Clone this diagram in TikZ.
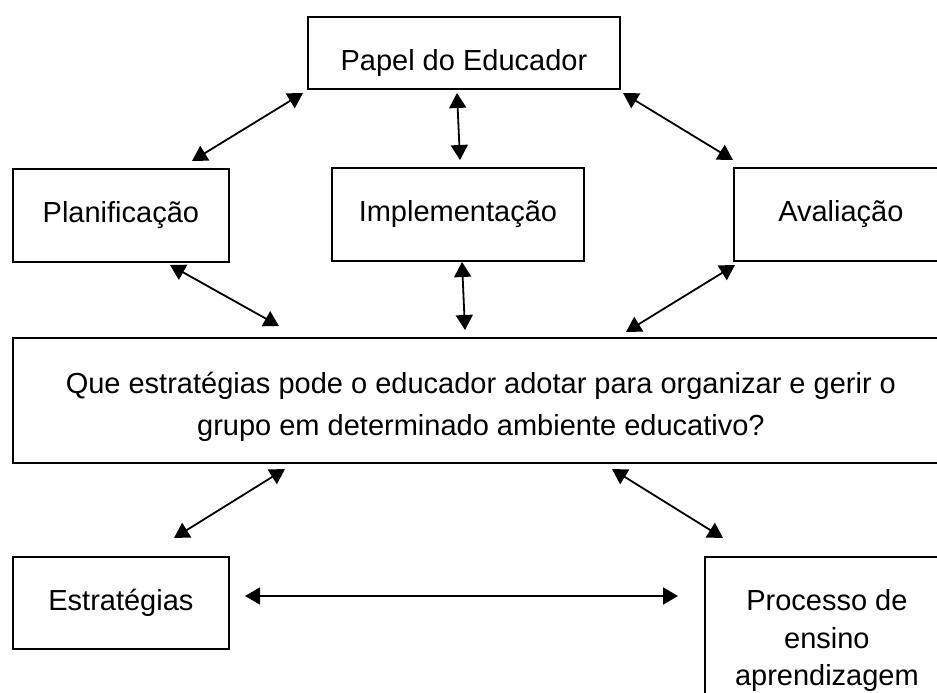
\documentclass[tikz,border=0pt]{standalone}
\usepackage{fontspec}
\setmainfont{Liberation Sans}
\usetikzlibrary{arrows.meta}
\begin{document}
\begin{tikzpicture}[x=1pt,y=-1pt,
  box/.style={draw,line width=1.8pt,rectangle,inner sep=0pt,anchor=north west,
    font=\fontsize{29}{42}\selectfont},
  arr/.style={line width=1.8pt,{Triangle[length=15pt,width=17pt]}-{Triangle[length=15pt,width=17pt]}}]
\useasboundingbox (0,0) rectangle (937,693);
\clip (0,0) rectangle (937,693);
\fill[white] (0,0) rectangle (937,693);
% boxes
\node[box,minimum width=312pt,minimum height=72pt,text height=40pt,text depth=4pt] (papel) at (307,16) {Papel do Educador};
\node[box,minimum width=216pt,minimum height=93pt] (plan) at (12,168) {Planificação};
\node[box,minimum width=252pt,minimum height=93pt] (impl) at (331,167) {Implementação};
\node[box,minimum width=214pt,minimum height=93pt] (aval) at (733,167) {Avaliação};
\node[box,align=center,minimum width=936pt,minimum height=125pt] (main) at (12,337)
  {\rule{0pt}{34pt}Que estratégias pode o educador adotar para organizar e gerir o\\grupo em determinado ambiente educativo?};
\node[box,minimum width=216pt,minimum height=92pt] (estr) at (12,556) {Estratégias};
\node[box,align=center,minimum width=244pt,minimum height=168pt,font=\fontsize{29}{37.5}\selectfont] (proc) at (704,556)
  {Processo de\\ensino\\aprendizagem};
% connector end points
\coordinate (pA) at (303,93);  \coordinate (plA) at (192,161);
\coordinate (pB) at (457,93);  \coordinate (imA) at (460,160);
\coordinate (pC) at (623,93);  \coordinate (avA) at (733,160);
\coordinate (plB) at (170,265); \coordinate (mA) at (279,326);
\coordinate (imB) at (462,262); \coordinate (mB) at (465,330);
\coordinate (avB) at (735,265); \coordinate (mC) at (626,332);
\coordinate (mD) at (285,469);  \coordinate (esA) at (174,538);
\coordinate (mE) at (612,469);  \coordinate (prA) at (723,538);
\coordinate (esB) at (245,596); \coordinate (prB) at (678,596);
% connectors
\draw[arr] (pA) -- (plA);
\draw[arr] (pB) -- (imA);
\draw[arr] (pC) -- (avA);
\draw[arr] (plB) -- (mA);
\draw[arr] (imB) -- (mB);
\draw[arr] (avB) -- (mC);
\draw[arr] (mD) -- (esA);
\draw[arr] (mE) -- (prA);
\draw[arr] (esB) -- (prB);
\end{tikzpicture}
\end{document}
